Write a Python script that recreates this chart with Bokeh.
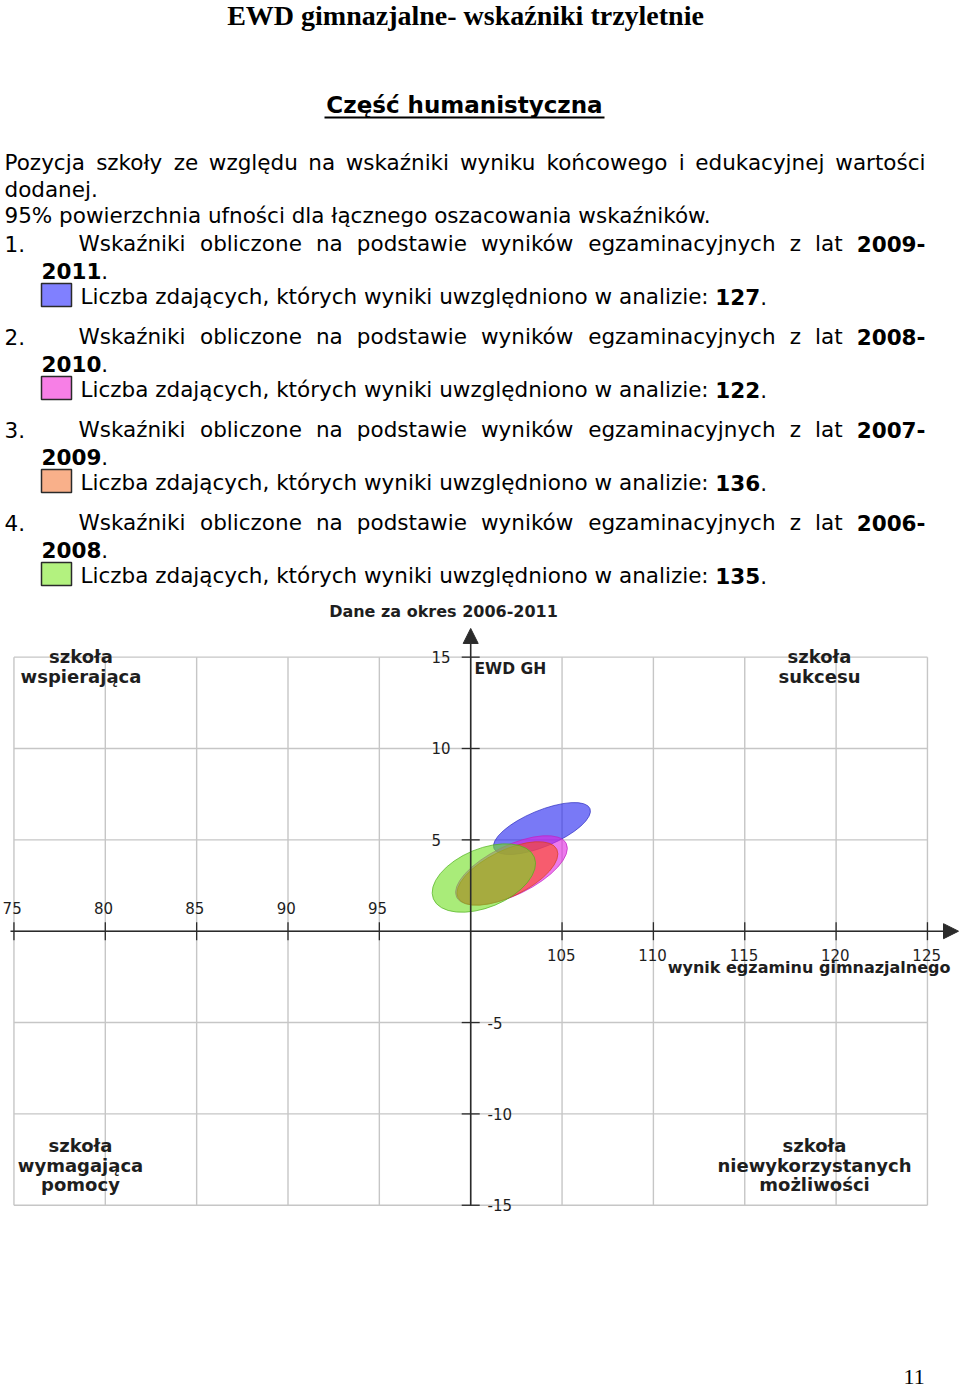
from bokeh.plotting import figure
from bokeh.models import Range1d, Arrow, NormalHead, ColumnDataSource
from bokeh.embed import file_html
from bokeh.resources import INLINE
from bokeh.core.properties import value

# ---------------- data ----------------
periods = ["2009-2011", "2008-2010", "2007-2009", "2006-2008"]
counts = [127, 122, 136, 135]
wynik_center = [103.90, 102.23, 102.01, 100.72]   # x: wynik egzaminu gimnazjalnego
ewd_center = [5.62, 3.33, 3.16, 2.91]             # y: EWD GH
ell_width = [5.69, 6.68, 6.02, 5.98]
ell_height = [1.97, 2.69, 2.52, 3.21]
ell_angle = [22.6, 26.0, 26.0, 22.5]
ell_fill = ["#2020f0", "#e020e0", "#ff4a1a", "#70e020"]
ell_line = ["#3030c0", "#c020c0", "#d04020", "#50b020"]
legend_fill = ["#8080ff", "#f77fe6", "#f9b08a", "#b3f27f"]
x_ticks = [75, 80, 85, 90, 95, 100, 105, 110, 115, 120, 125]
y_ticks = [-15, -10, -5, 0, 5, 10, 15]
x_labels_left = [75, 80, 85, 90, 95]
x_labels_right = [105, 110, 115, 120, 125]
y_labels_up = [5, 10, 15]
y_labels_down = [-5, -10, -15]

# ---------------- page geometry (page px) ----------------
L, T, R_, B = 0, 0, 960, 1389          # area covered by the figure
X0, Y0, PX = 470.2, 930.7, 18.27       # chart origin (100, 0) in page px, px per unit
K = 0.37                               # text baseline correction (fraction of font size)

SANS = value("DejaVu Sans")
SERIF = value("Liberation Serif")
BODY = 21.5

W_REG = {' ': 651, '.': 651, ',': 651, ':': 690, '-': 739, '%': 1946,
         'a': 1255, 'b': 1300, 'c': 1126, 'd': 1300, 'e': 1260, 'f': 721, 'g': 1300,
         'h': 1298, 'i': 569, 'j': 569, 'k': 1186, 'l': 569, 'm': 1995, 'n': 1298,
         'o': 1253, 'p': 1300, 'r': 842, 's': 1067, 't': 803, 'u': 1298, 'w': 1675,
         'y': 1212, 'z': 1075, 'ą': 1255, 'ę': 1260, 'ł': 600, 'ń': 1298, 'ó': 1253,
         'ś': 1067, 'ź': 1075, 'ż': 1075, 'ć': 1126, 'P': 1235, 'L': 1130, 'W': 2025}
for d in "0123456789":
    W_REG[d] = 1303
W_BOLD = {'-': 852, '.': 780}
for d in "0123456789":
    W_BOLD[d] = 1425


def tw(s, size, bold=False):
    tab = W_BOLD if bold else W_REG
    return sum(tab.get(ch, W_REG.get(ch, 1250)) for ch in s) / 2048.0 * size


def by(baseline, size):
    return baseline - K * size


texts = {}


def add(t, x, y, bold=False, align="left"):
    key = (bold, align)
    d = texts.setdefault(key, {"x": [], "y": [], "text": []})
    d["x"].append(x)
    d["y"].append(by(y, BODY))
    d["text"].append(t)


def justify(words, x0, x1, y, size):
    widths = [tw(t, size, b) for t, b in words]
    gap = (x1 - x0 - sum(widths)) / (len(words) - 1)
    x = x0
    for i, (t, b) in enumerate(words):
        if i == len(words) - 1:
            add(t, x1, y, b, "right")
        else:
            add(t, x, y, b, "left")
        x += widths[i] + gap


p = figure(width=R_ - L, height=B - T, x_range=Range1d(L, R_), y_range=Range1d(B, T),
           output_backend="svg", toolbar_location=None, min_border=0,
           x_axis_location=None, y_axis_location=None)
p.grid.visible = False
p.outline_line_color = None
p.background_fill_color = "white"
p.border_fill_color = "white"
p.extra_x_ranges = {"cx": Range1d(100 + (L - X0) / PX, 100 + (R_ - X0) / PX)}
p.extra_y_ranges = {"cy": Range1d((Y0 - B) / PX, (Y0 - T) / PX)}

# ---------------- header text ----------------
p.text(x=[465], y=[by(25, 28)], text=["EWD gimnazjalne- wskaźniki trzyletnie"], text_font=SERIF,
       text_font_style="bold", text_font_size="28px", text_align="center",
       text_baseline="alphabetic", text_color="black")
p.text(x=[464], y=[by(113, 23)], text=["Część humanistyczna"], text_font=SANS, text_font_style="bold",
       text_font_size="23px", text_align="center", text_baseline="alphabetic", text_color="black")
p.segment(x0=[324], y0=[117], x1=[604], y1=[117], line_color="black", line_width=2)

line1 = "Pozycja szkoły ze względu na wskaźniki wyniku końcowego i edukacyjnej wartości".split()
justify([(w, False) for w in line1], 4, 925, 170, BODY)
add("dodanej.", 4, 197)
add("95% powierzchnia ufności dla łącznego oszacowania wskaźników.", 4, 223)

for i, per in enumerate(periods):
    base = 251 + 93 * i
    start, end = per.split("-")
    add(f"{i + 1}.", 4, base)
    words = [(w, False) for w in "Wskaźniki obliczone na podstawie wyników egzaminacyjnych z lat".split()]
    words.append((start + "-", True))
    justify(words, 78, 925, base, BODY)
    add(end, 41, base + 27, True)
    add(".", 41 + tw(end, BODY, True), base + 27)
    lead = "Liczba zdających, których wyniki uwzględniono w analizie: "
    add(lead, 80, base + 53)
    xc = 80 + tw(lead, BODY)
    add(str(counts[i]), xc, base + 53, True)
    add(".", xc + tw(str(counts[i]), BODY, True), base + 53)

for (bold, align), d in texts.items():
    p.text(x=d["x"], y=d["y"], text=d["text"], text_font=SANS,
           text_font_style="bold" if bold else "normal", text_font_size=f"{BODY}px",
           text_align=align, text_baseline="alphabetic", text_color="black")

# legend boxes
p.quad(left=[41] * 4, right=[71] * 4, top=[283 + 93 * i for i in range(4)],
       bottom=[306 + 93 * i for i in range(4)], fill_color=legend_fill,
       line_color="#2a2a2a", line_width=1.5)

# ---------------- chart ----------------
R = dict(x_range_name="cx", y_range_name="cy")
GRID = "#c6c6c6"
p.segment(x0=x_ticks, y0=[y_ticks[0]] * len(x_ticks), x1=x_ticks, y1=[y_ticks[-1]] * len(x_ticks),
          line_color=GRID, line_width=1.4, **R)
p.segment(x0=[x_ticks[0]] * len(y_ticks), y0=y_ticks, x1=[x_ticks[-1]] * len(y_ticks), y1=y_ticks,
          line_color=GRID, line_width=1.4, **R)

src = ColumnDataSource(dict(x=wynik_center, y=ewd_center, w=ell_width, h=ell_height,
                            a=ell_angle, f=ell_fill, l=ell_line))
p.ellipse(x="x", y="y", width="w", height="h", angle="a", angle_units="deg",
          fill_color="f", fill_alpha=0.6, line_color="l", line_alpha=0.7, line_width=1,
          source=src, **R)

AX = "#2b2b2b"
x_min_u = 100 + (10 - X0) / PX
x_max_u = 100 + (958 - X0) / PX
p.add_layout(Arrow(x_start=x_min_u, y_start=0, x_end=x_max_u, y_end=0,
                   line_color=AX, line_width=1.6,
                   end=NormalHead(size=15, fill_color=AX, line_color=AX), **R))
p.add_layout(Arrow(x_start=100, y_start=y_ticks[0], x_end=100, y_end=y_ticks[-1] + 1.57,
                   line_color=AX, line_width=1.6,
                   end=NormalHead(size=15, fill_color=AX, line_color=AX), **R))

xt = [t for t in x_ticks if t != 100]
yt = [t for t in y_ticks if t != 0]
tick_half = 9 / PX
p.segment(x0=xt, y0=[-tick_half] * len(xt), x1=xt, y1=[tick_half] * len(xt),
          line_color=AX, line_width=1.3, **R)
p.segment(x0=[100 - tick_half] * len(yt), y0=yt, x1=[100 + tick_half] * len(yt), y1=yt,
          line_color=AX, line_width=1.3, **R)

LBL = "#1e1e1e"
TS = 15
kk = K * TS / PX
half_lbl = [tw(str(v), TS) / 2 / PX for v in x_labels_left]
p.text(x=[max(v - 1.8 / PX, 100 + (L + 2 - X0) / PX + hw) for v, hw in zip(x_labels_left, half_lbl)],
       y=[(Y0 - 913) / PX + kk] * len(x_labels_left),
       text=[str(v) for v in x_labels_left], text_font=SANS, text_font_size=f"{TS}px",
       text_align="center", text_baseline="alphabetic", text_color=LBL, **R)
p.text(x=[v - 0.8 / PX for v in x_labels_right], y=[-(960 - Y0) / PX + kk] * len(x_labels_right),
       text=[str(v) for v in x_labels_right], text_font=SANS, text_font_size=f"{TS}px",
       text_align="center", text_baseline="alphabetic", text_color=LBL, **R)
p.text(x=[100 - 39.2 / PX] * len(y_labels_up), y=[v - 5.5 / PX + kk for v in y_labels_up],
       text=[str(v) for v in y_labels_up], text_font=SANS, text_font_size=f"{TS}px",
       text_align="left", text_baseline="alphabetic", text_color=LBL, **R)
p.text(x=[100 + 16.8 / PX] * len(y_labels_down), y=[v - 5.5 / PX + kk for v in y_labels_down],
       text=[str(v) for v in y_labels_down], text_font=SANS, text_font_size=f"{TS}px",
       text_align="left", text_baseline="alphabetic", text_color=LBL, **R)

# chart titles
p.text(x=[443], y=[by(617, 16)], text=["Dane za okres 2006-2011"], text_font=SANS,
       text_font_style="bold", text_font_size="16px", text_align="center",
       text_baseline="alphabetic", text_color=LBL)
p.text(x=[474], y=[by(674, 15.5)], text=["EWD GH"], text_font=SANS, text_font_style="bold",
       text_font_size="15.5px", text_align="left", text_baseline="alphabetic", text_color=LBL)
p.text(x=[950], y=[by(973, 16)], text=["wynik egzaminu gimnazjalnego"], text_font=SANS,
       text_font_style="bold", text_font_size="16px", text_align="right",
       text_baseline="alphabetic", text_color=LBL)

quad_x, quad_y, quad_t = [], [], []
for cx, y0, lines in [(80.5, 663, ["szkoła", "wspierająca"]),
                      (819, 663, ["szkoła", "sukcesu"]),
                      (80, 1152, ["szkoła", "wymagająca", "pomocy"]),
                      (814, 1152, ["szkoła", "niewykorzystanych", "możliwości"])]:
    for k, t in enumerate(lines):
        quad_x.append(cx)
        quad_y.append(by(y0 + 19.5 * k, 18))
        quad_t.append(t)
p.text(x=quad_x, y=quad_y, text=quad_t, text_font=SANS, text_font_style="bold",
       text_font_size="18px", text_align="center", text_baseline="alphabetic", text_color=LBL)

# page number
p.text(x=[903], y=[by(1385, 22)], text=["11"], text_font=SERIF, text_font_size="22px",
       text_align="left", text_baseline="alphabetic", text_color="black")

open("out.html", "w").write(file_html(p, INLINE))
